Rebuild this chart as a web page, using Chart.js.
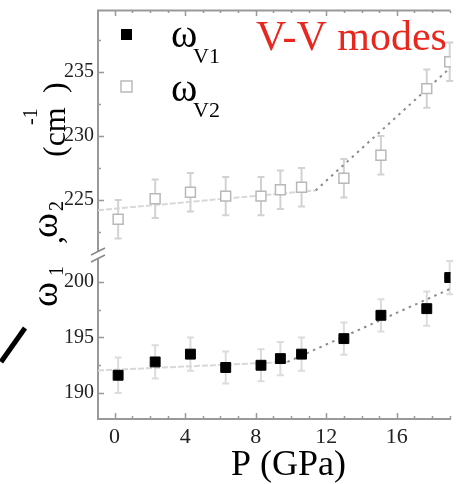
<!DOCTYPE html>
<html>
<head>
<meta charset="utf-8">
<script src="https://cdn.jsdelivr.net/npm/chart.js@4.4.1/dist/chart.umd.min.js"></script>
<style>
  html, body { margin: 0; padding: 0; background: #fff; }
</style>
</head>
<body>
<canvas id="vvChart" width="459" height="484"></canvas>
<script>
// pressure of each measurement (GPa)
var pressure = [0.2, 2.3, 4.3, 6.3, 8.3, 9.4, 10.6, 13.0, 15.1, 17.7, 19.0];
// omega_V1 (lower panel) and its error bars
var omegaV1 = [191.6, 192.8, 193.5, 192.3, 192.5, 193.1, 193.5, 194.9, 197.0, 197.6, 200.4];
var errV1 = [1.6, 1.5, 1.5, 1.45, 1.45, 1.5, 1.5, 1.45, 1.45, 1.55, 1.5];
// omega_V2 (upper panel) and its error bars
var omegaV2 = [223.5, 225.1, 225.6, 225.3, 225.3, 225.8, 226.0, 226.7, 228.5, 233.7, 235.8];
var errV2 = [1.5, 1.5, 1.5, 1.5, 1.5, 1.5, 1.5, 1.5, 1.5, 1.5, 1.5];
// guide lines: flat part, then the kink, then the rise
var fitV1P = [-0.94, 9.8, 19.05];
var fitV1W = [192.03, 192.8, 199.4];
var fitV2P = [-0.94, 11.4, 19.05];
var fitV2W = [224.2, 225.75, 235.35];
// ticks
var xTickValues = [0, 1, 2, 3, 4, 5, 6, 7, 8, 9, 10, 11, 12, 13, 14, 15, 16, 17, 18, 19];
var xTickLabels = [0, 4, 8, 12, 16];
var yHighTickValues = [222.5, 225, 227.5, 230, 232.5, 235, 237.5];
var yLowTickValues = [190, 192.5, 195, 197.5, 200];
var yTickLabels = [190, 195, 200, 225, 230, 235];

var SERIF = '"Liberation Serif", "Times New Roman", serif';

function pts(xs, ys) {
  return xs.map(function (x, i) { return { x: x, y: ys[i] }; });
}

// error bars, drawn behind the squares
var errorBars = {
  id: 'errorBars',
  beforeDatasetsDraw: function (chart) {
    var ctx = chart.ctx;
    var xs = chart.scales.x;
    chart.data.datasets.forEach(function (ds) {
      if (!ds.errors) return;
      var ys = chart.scales[ds.yAxisID];
      ctx.save();
      ctx.strokeStyle = ds.errorColor;
      ctx.lineWidth = 2;
      ds.data.forEach(function (p, i) {
        var px = xs.getPixelForValue(p.x);
        var top = ys.getPixelForValue(p.y + ds.errors[i]);
        var bot = ys.getPixelForValue(p.y - ds.errors[i]);
        ctx.beginPath();
        ctx.moveTo(px, top); ctx.lineTo(px, bot);
        ctx.moveTo(px - 3.5, top); ctx.lineTo(px + 3.5, top);
        ctx.moveTo(px - 3.5, bot); ctx.lineTo(px + 3.5, bot);
        ctx.stroke();
      });
      ctx.restore();
    });
  }
};

// frame, inward ticks, axis break, legend and titles
var decorations = {
  id: 'decorations',
  afterDraw: function (chart) {
    var ctx = chart.ctx;
    var area = chart.chartArea;
    var xs = chart.scales.x;
    ctx.save();
    ctx.strokeStyle = '#999';
    ctx.lineWidth = 2;
    ctx.beginPath();
    ctx.moveTo(area.left - 1, 10.5);
    ctx.lineTo(area.right, 10.5);
    ctx.stroke();

    ctx.lineWidth = 1.5;
    ctx.beginPath();
    xs.ticks.forEach(function (t) {
      var px = Math.round(xs.getPixelForValue(t.value)) + 0.5;
      var len = xTickLabels.indexOf(t.value) >= 0 ? 6 : 3;
      ctx.moveTo(px, area.bottom); ctx.lineTo(px, area.bottom - len);
      ctx.moveTo(px, 11); ctx.lineTo(px, 11 + len - 1);
    });
    ['yHigh', 'yLow'].forEach(function (id) {
      var ys = chart.scales[id];
      ys.ticks.forEach(function (t) {
        var py = Math.round(ys.getPixelForValue(t.value)) + 0.5;
        var len = yTickLabels.indexOf(t.value) >= 0 ? 6 : 3;
        ctx.moveTo(area.left, py); ctx.lineTo(area.left + len, py);
      });
    });
    ctx.stroke();

    // axis break
    var yb = chart.scales.yHigh.bottom;
    ctx.fillStyle = '#fff';
    ctx.beginPath();
    ctx.moveTo(92, yb - 0.5); ctx.lineTo(104, yb - 6.5);
    ctx.lineTo(104, yb + 0.5); ctx.lineTo(92, yb + 6.5);
    ctx.closePath();
    ctx.fill();
    ctx.strokeStyle = '#888';
    ctx.lineWidth = 1.5;
    ctx.beginPath();
    ctx.moveTo(91, yb); ctx.lineTo(105, yb - 7);
    ctx.moveTo(91, yb + 7); ctx.lineTo(105, yb);
    ctx.stroke();

    // stray stroke at the left edge
    ctx.strokeStyle = '#000';
    ctx.lineWidth = 5;
    ctx.beginPath();
    ctx.moveTo(1, 362); ctx.lineTo(25, 328);
    ctx.stroke();

    // legend
    ctx.fillStyle = '#000';
    ctx.fillRect(121, 29, 11, 11);
    ctx.strokeStyle = '#bbb';
    ctx.lineWidth = 1.5;
    ctx.strokeRect(121, 81, 11, 11);
    ctx.fillStyle = '#000';
    ctx.textAlign = 'left';
    ctx.textBaseline = 'alphabetic';
    ctx.font = '40px ' + SERIF;
    ctx.fillText('ω', 171, 47);
    ctx.fillText('ω', 171, 101);
    ctx.font = '22px ' + SERIF;
    ctx.fillText('V1', 193, 63);
    ctx.fillText('V2', 193, 117);

    // panel label
    ctx.fillStyle = '#e8271f';
    ctx.font = '42px ' + SERIF;
    ctx.fillText('V-V modes', 256, 50);

    // x title
    ctx.fillStyle = '#000';
    ctx.font = '36px ' + SERIF;
    ctx.fillText('P (GPa)', 231, 475);

    // y title, rotated, piece by piece
    var pieces = [
      ['ω', 38, 57, 307], ['1', 20, 63, 276], [',', 32, 62, 244],
      ['ω', 38, 57, 238], ['2', 20, 63, 211], ['(cm', 32, 65, 157],
      ['-1', 20, 37, 125], [')', 32, 65, 93]
    ];
    pieces.forEach(function (p) {
      ctx.save();
      ctx.translate(p[2], p[3]);
      ctx.rotate(-Math.PI / 2);
      ctx.font = p[1] + 'px ' + SERIF;
      ctx.fillText(p[0], 0, 0);
      ctx.restore();
    });
    ctx.restore();
  }
};

function yAxis(min, max, weight, values) {
  return {
    type: 'linear',
    position: 'left',
    stack: 'omega',
    stackWeight: weight,
    min: min,
    max: max,
    grid: { display: true, drawOnChartArea: false, drawTicks: false },
    border: { display: true, color: '#999', width: 2 },
    afterBuildTicks: function (scale) {
      scale.ticks = values.map(function (v) { return { value: v }; });
    },
    afterFit: function (scale) {
      scale.width = 98;
      scale.paddingTop = 0;
      scale.paddingBottom = 0;
    },
    ticks: {
      padding: 4,
      color: '#222',
      autoSkip: false,
      font: { family: SERIF, size: 20 },
      callback: function (v) { return yTickLabels.indexOf(v) >= 0 ? String(v) : ''; }
    }
  };
}

var ctx = document.getElementById('vvChart').getContext('2d');
var vvChart = new Chart(ctx, {
  type: 'line',
  data: {
    datasets: [
      {
        label: 'ωV1',
        data: pts(pressure, omegaV1),
        yAxisID: 'yLow',
        showLine: false,
        pointStyle: 'rect',
        pointRadius: 7,
        backgroundColor: '#000',
        borderColor: '#000',
        borderWidth: 1,
        errors: errV1,
        errorColor: '#dcdcdc'
      },
      {
        label: 'ωV2',
        data: pts(pressure, omegaV2),
        yAxisID: 'yHigh',
        showLine: false,
        pointStyle: 'rect',
        pointRadius: 7,
        backgroundColor: '#fff',
        borderColor: '#b8b8b8',
        borderWidth: 1.5,
        errors: errV2,
        errorColor: '#d2d2d2'
      },
      {
        label: 'fit V1',
        data: pts(fitV1P, fitV1W),
        yAxisID: 'yLow',
        pointRadius: 0,
        borderWidth: 2,
        borderColor: '#8c8c8c',
        segment: {
          borderColor: function (c) { return c.p0DataIndex === 0 ? '#d8d8d8' : '#8c8c8c'; },
          borderDash: function (c) { return c.p0DataIndex === 0 ? [6, 2] : [2.5, 4.5]; }
        }
      },
      {
        label: 'fit V2',
        data: pts(fitV2P, fitV2W),
        yAxisID: 'yHigh',
        pointRadius: 0,
        borderWidth: 2,
        borderColor: '#8c8c8c',
        segment: {
          borderColor: function (c) { return c.p0DataIndex === 0 ? '#d8d8d8' : '#8c8c8c'; },
          borderDash: function (c) { return c.p0DataIndex === 0 ? [6, 2] : [2.5, 4.5]; }
        }
      }
    ]
  },
  options: {
    responsive: false,
    animation: false,
    layout: { padding: { top: 11, left: 0, right: 0, bottom: 0 } },
    plugins: { legend: { display: false }, tooltip: { enabled: false } },
    scales: {
      x: {
        type: 'linear',
        min: -0.941,
        max: 19.045,
        grid: { display: true, drawOnChartArea: false, drawTicks: false },
        border: { display: true, color: '#999', width: 2 },
        afterBuildTicks: function (scale) {
          scale.ticks = xTickValues.map(function (v) { return { value: v }; });
        },
        afterFit: function (scale) {
          scale.height = 65;
          scale.paddingLeft = 0;
          scale.paddingRight = 0;
        },
        ticks: {
          padding: 5,
          color: '#222',
          maxRotation: 0,
          autoSkip: false,
          font: { family: SERIF, size: 22 },
          callback: function (v) { return xTickLabels.indexOf(v) >= 0 ? String(v) : ''; }
        }
      },
      yLow: yAxis(187.658, 202.432, 164, yLowTickValues),
      yHigh: yAxis(220.703, 239.766, 244, yHighTickValues)
    }
  },
  plugins: [errorBars, decorations]
});
</script>
</body>
</html>
